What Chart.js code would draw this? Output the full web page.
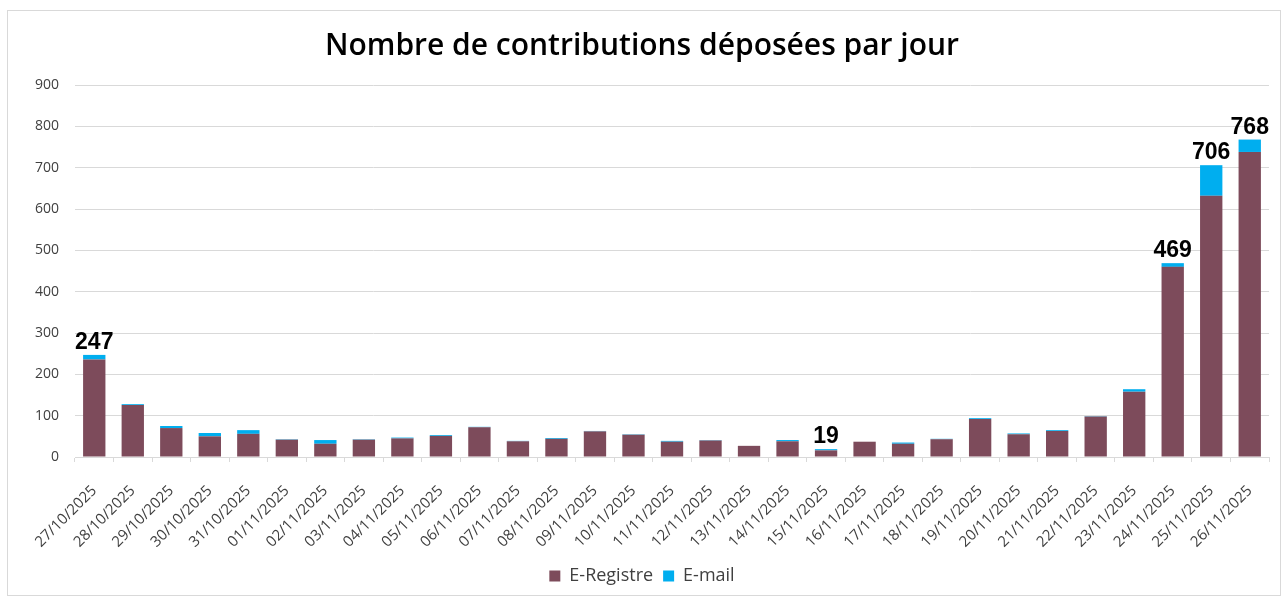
<!DOCTYPE html>
<html>
<head>
<meta charset="utf-8">
<script src="https://cdn.jsdelivr.net/npm/chart.js@4"></script>
<style>
  html, body { margin: 0; padding: 0; background: #ffffff; }
  #wrap { position: relative; width: 1283px; height: 599px; overflow: hidden; }
  #frame { position: absolute; left: 7px; top: 10px; width: 1272px; height: 584px; border: 1px solid #d9d9d9; pointer-events: none; }
  canvas { position: absolute; left: 0; top: 0; }
</style>
</head>
<body>
<div id="wrap">
  <canvas id="c" width="1283" height="599"></canvas>
  <div id="frame"></div>
</div>
<script>
const categories = ["27/10/2025","28/10/2025","29/10/2025","30/10/2025","31/10/2025","01/11/2025","02/11/2025","03/11/2025","04/11/2025","05/11/2025","06/11/2025","07/11/2025","08/11/2025","09/11/2025","10/11/2025","11/11/2025","12/11/2025","13/11/2025","14/11/2025","15/11/2025","16/11/2025","17/11/2025","18/11/2025","19/11/2025","20/11/2025","21/11/2025","22/11/2025","23/11/2025","24/11/2025","25/11/2025","26/11/2025"];
const eRegistre = [236,126,70,50,56,42,32,42,45,51,72,38,44,62,54,37,40,27,38,16,37,32,43,92,55,63,98,158,460,632,738];
const eMail = [11,2,5,8,9,1,9,1,2,2,1,1,2,1,1,2,1,0,3,3,0,3,1,2,2,2,1,6,9,74,30];
const labeledIndices = [0,19,28,29,30];
const yTicks = [0,100,200,300,400,500,600,700,800,900];

const totalsPlugin = {
  id: 'totals',
  afterDatasetsDraw(chart) {
    const ctx = chart.ctx;
    const meta = chart.getDatasetMeta(1);
    ctx.save();
    ctx.font = 'bold 23px "Liberation Sans", Arial, sans-serif';
    ctx.fillStyle = '#000000';
    ctx.textAlign = 'center';
    ctx.textBaseline = 'alphabetic';
    labeledIndices.forEach(i => {
      const bar = meta.data[i];
      const total = eRegistre[i] + eMail[i];
      ctx.fillText(String(total), bar.x, bar.y - 6);
    });
    ctx.restore();
  }
};

new Chart(document.getElementById('c'), {
  type: 'bar',
  data: {
    labels: categories,
    datasets: [
      { label: 'E-Registre', data: eRegistre, backgroundColor: '#7d4b5b', categoryPercentage: 1.0, barPercentage: 0.58 },
      { label: 'E-mail', data: eMail, backgroundColor: '#00aeef', categoryPercentage: 1.0, barPercentage: 0.58 }
    ]
  },
  options: {
    responsive: false,
    animation: false,
    devicePixelRatio: 1,
    layout: { padding: { top: 20, left: 15, right: 14, bottom: 4 } },
    plugins: {
      title: {
        display: true,
        text: 'Nombre de contributions déposées par jour',
        color: '#000000',
        font: { family: '"Open Sans", sans-serif', size: 30, weight: '600' },
        padding: { top: 8, bottom: 21 }
      },
      legend: {
        position: 'bottom',
        labels: {
          color: '#404040',
          font: { family: '"Open Sans", sans-serif', size: 18 },
          usePointStyle: true,
          pointStyle: 'rect',
          boxWidth: 11,
          boxHeight: 11,
          padding: 10
        }
      },
      tooltip: { enabled: false }
    },
    scales: {
      x: {
        stacked: true,
        afterFit(scale) { scale.height = 100; },
        grid: { display: true, drawOnChartArea: false, drawTicks: true, tickLength: 5, color: '#d9d9d9', offset: true },
        border: { display: true, color: '#d9d9d9' },
        ticks: {
          color: '#404040',
          font: { family: '"Open Sans", sans-serif', size: 15 },
          minRotation: 45, maxRotation: 45,
          autoSkip: false,
          padding: 20
        }
      },
      y: {
        stacked: true,
        min: 0, max: 900,
        afterFit(scale) { scale.width = 60; },
        afterBuildTicks(scale) { scale.ticks = yTicks.map(v => ({ value: v })); },
        grid: { color: '#d9d9d9', drawTicks: false, lineWidth: 1 },
        border: { display: false },
        ticks: {
          color: '#404040',
          font: { family: '"Open Sans", sans-serif', size: 14 },
          padding: 16,
          stepSize: 100
        }
      }
    }
  },
  plugins: [totalsPlugin]
});
</script>
</body>
</html>
